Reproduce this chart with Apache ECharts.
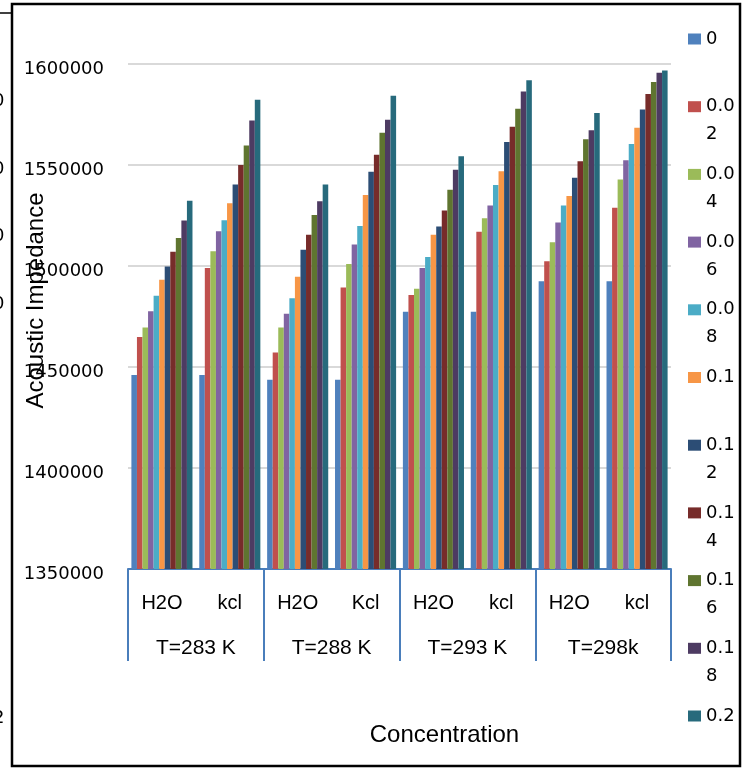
<!DOCTYPE html>
<html><head><meta charset="utf-8">
<script src="https://cdn.jsdelivr.net/npm/echarts@6/dist/echarts.min.js"></script>
<style>html,body{margin:0;padding:0;background:#fff}#c{width:753px;height:771px}</style>
</head><body><div id="c"></div>
<script>
// ---- data ----
const categories = ['H2O', 'kcl', 'H2O', 'Kcl', 'H2O', 'kcl', 'H2O', 'kcl'];
const temperatures = ['T=283 K', 'T=288 K', 'T=293 K', 'T=298k'];
const concentrations = ['0', '0.02', '0.04', '0.06', '0.08', '0.1', '0.12', '0.14', '0.16', '0.18', '0.2'];
const yTicks = { min: 1350000, max: 1600000, step: 50000 };

const c000 = [1446000, 1446000, 1443700, 1443700, 1477300, 1477300, 1492500, 1492500];
const c002 = [1464800, 1499000, 1457200, 1489400, 1485700, 1516900, 1502400, 1528800];
const c004 = [1469500, 1507300, 1469500, 1501000, 1488700, 1523700, 1511800, 1542800];
const c006 = [1477600, 1517200, 1476300, 1510600, 1499000, 1529900, 1521500, 1552400];
const c008 = [1485300, 1522700, 1484000, 1519800, 1504400, 1540100, 1530000, 1560400];
const c010 = [1493200, 1531100, 1494700, 1535200, 1515500, 1546900, 1534600, 1568400];
const c012 = [1499800, 1540300, 1508000, 1546600, 1519500, 1561400, 1543700, 1577500];
const c014 = [1507000, 1550000, 1515500, 1555100, 1527500, 1568900, 1551900, 1585200];
const c016 = [1513800, 1559700, 1525300, 1566000, 1537700, 1577800, 1562800, 1591100];
const c018 = [1522500, 1572000, 1532100, 1572400, 1547600, 1586400, 1567200, 1595700];
const c020 = [1532300, 1582300, 1540300, 1584300, 1554300, 1592000, 1575800, 1596800];

const seriesValues = [c000, c002, c004, c006, c008, c010, c012, c014, c016, c018, c020];
const colors = ['#4F81BD', '#C0504D', '#9BBB59', '#8064A2', '#4BACC6', '#F79646',
                '#2C4D75', '#772C2A', '#5F7530', '#4D3B62', '#276A7C'];

// ---- chart ----
const chart = echarts.init(document.getElementById('c'), null, { renderer: 'canvas' });
const axisBlue = '#4A7EBB';
const numFont = '"DejaVu Sans", Verdana, "Noto Sans", sans-serif';

const series = concentrations.map((name, i) => ({
  name: name,
  type: 'bar',
  xAxisIndex: 0,
  yAxisIndex: 0,
  data: seriesValues[i],
  barGap: '0%',
  barCategoryGap: '10%',
  itemStyle: { color: colors[i] },
  emphasis: { disabled: true },
  animation: false
}));

const fragments = [
  ['0', 101], ['0', 169], ['0', 236], ['0', 304], ['-', 377], ['-', 446],
  ['-', 516], ['-', 584], ['-', 654], ['2', 718]
];

chart.setOption({
  backgroundColor: '#ffffff',
  animation: false,
  color: colors,
  grid: { left: 128, right: 82, top: 64, height: 505, outerBoundsMode: 'none', containLabel: false },
  legend: {
    orient: 'vertical',
    left: 688,
    top: -3,
    padding: 0,
    itemGap: -16.3,
    itemWidth: 13,
    itemHeight: 11,
    icon: 'rect',
    selectedMode: false,
    data: concentrations,
    formatter: function (n) {
      return n.length > 3 ? ' \n' + n.slice(0, 3) + '\n' + n.slice(3) : ' \n' + n + '\n ';
    },
    textStyle: { fontFamily: numFont, fontSize: 18, color: '#000', lineHeight: 28 },
    itemStyle: { borderWidth: 0 }
  },
  xAxis: [
    {
      type: 'category',
      data: categories,
      position: 'bottom',
      axisLine: { show: true, lineStyle: { color: axisBlue, width: 2 } },
      axisTick: { show: false },
      axisLabel: { interval: 0, margin: 24, fontFamily: 'Liberation Sans', fontSize: 20, color: '#000' },
      splitLine: { show: false },
      name: 'Concentration',
      nameLocation: 'middle',
      nameGap: 154,
      nameMoveOverlap: false,
      nameTextStyle: { fontFamily: 'Liberation Sans', fontSize: 24, color: '#000', padding: [0, 0, 0, 90] }
    },
    {
      type: 'category',
      data: temperatures,
      position: 'bottom',
      gridIndex: 0,
      axisLine: { show: false },
      axisTick: { show: true, length: 92, inside: false, interval: 0, lineStyle: { color: axisBlue, width: 2 } },
      axisLabel: { interval: 0, margin: 69, fontFamily: 'Liberation Sans', fontSize: 21, color: '#000' },
      splitLine: { show: false }
    }
  ],
  yAxis: {
    type: 'value',
    min: yTicks.min,
    max: yTicks.max,
    interval: yTicks.step,
    axisLine: { show: false },
    axisTick: { show: false },
    axisLabel: {
      margin: 24, fontFamily: numFont, fontSize: 18, color: '#000',
      verticalAlign: 'top', lineHeight: 10,
      formatter: function (v) { return String(v); }
    },
    splitLine: { show: true, lineStyle: { color: '#D9D9D9', width: 2 } },
    name: 'Acoustic Impedance',
    nameLocation: 'middle',
    nameRotate: 90,
    nameGap: 80,
    nameMoveOverlap: false,
    nameTextStyle: { fontFamily: 'Liberation Sans', fontSize: 24, color: '#000', padding: [0, 0, 0, 32] }
  },
  graphic: [
    { type: 'rect', silent: true, z: 100, shape: { x: 12, y: 4, width: 728, height: 762 },
      style: { fill: null, stroke: '#000', lineWidth: 2.5 } },
    { type: 'line', silent: true, z: 100, shape: { x1: 0, y1: 13, x2: 12, y2: 13 },
      style: { stroke: '#000', lineWidth: 1.5 } }
  ].concat(fragments.map(f => ({
    type: 'text', silent: true, z: 100, x: -7, y: f[1],
    style: { text: f[0], fontFamily: numFont, fontSize: 18, fill: '#000', verticalAlign: 'middle' }
  }))),
  series: series
});
</script>
</body></html>
